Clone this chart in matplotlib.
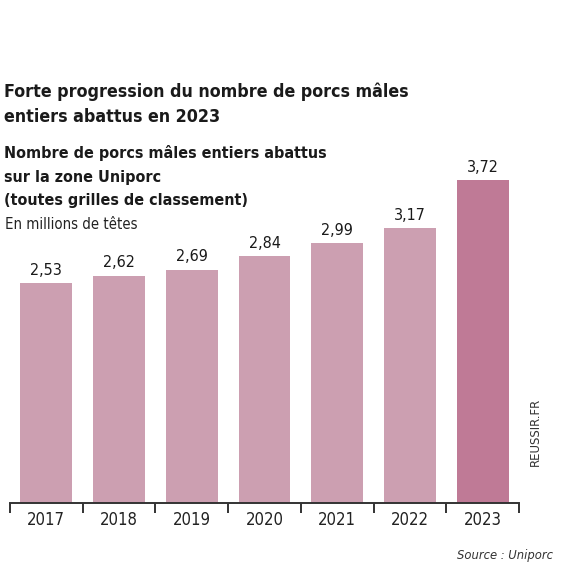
import matplotlib
matplotlib.use("Agg")
import matplotlib.pyplot as plt
from matplotlib import font_manager as fm

# ---- data ----
years = ["2017", "2018", "2019", "2020", "2021", "2022", "2023"]
values = [2.53, 2.62, 2.69, 2.84, 2.99, 3.17, 3.72]
value_labels = ["2,53", "2,62", "2,69", "2,84", "2,99", "3,17", "3,72"]
bar_colors = ["#cc9fb1", "#cc9fb1", "#cc9fb1", "#cc9fb1", "#cc9fb1", "#cc9fb1", "#bf7a96"]
title_lines = ["Forte progression du nombre de porcs mâles",
               "entiers abattus en 2023"]
subtitle_lines = ["Nombre de porcs mâles entiers abattus",
                  "sur la zone Uniporc",
                  "(toutes grilles de classement)"]
unit_text = "En millions de têtes"
source_text = "Source : Uniporc"
credit_text = "REUSSIR.FR"

W, H = 570, 576
names = {f.name for f in fm.fontManager.ttflist}
if "Liberation Sans Narrow" in names:
    NARROW = dict(family="Liberation Sans Narrow")
else:
    NARROW = dict(family="DejaVu Sans", stretch="condensed")

fig = plt.figure(figsize=(W / 100, H / 100), dpi=100)
fig.patch.set_facecolor("white")

# axes: x from 10 to 519 px, baseline at 503 px, ylim 0..4 (86.8 px per unit)
ax_left, ax_right = 10, 519
base_y = 503
px_per_unit = 86.8
ymax = 4.0
ax_top = base_y - ymax * px_per_unit
ax = fig.add_axes([ax_left / W, (H - base_y) / H, (ax_right - ax_left) / W,
                   (base_y - ax_top) / H])
x = list(range(len(years)))
ax.bar(x, values, width=0.715, color=bar_colors, zorder=2)
ax.set_xlim(-0.5, len(years) - 0.5)
ax.set_ylim(0, ymax)
for s in ["top", "right", "left"]:
    ax.spines[s].set_visible(False)
ax.spines["bottom"].set_color("#333333")
ax.spines["bottom"].set_linewidth(1.4)
ax.set_yticks([])
ax.set_xticks(x)
ax.set_xticks([i - 0.5 for i in range(len(years) + 1)], minor=True)
ax.tick_params(axis="x", which="major", length=0, pad=6)
ax.tick_params(axis="x", which="minor", length=7, width=1.4, color="#333333")
ax.set_xticklabels(years, fontsize=12, color="#222222", **NARROW)
ax.set_facecolor("none")

# value labels
for xi, v, lab in zip(x, values, value_labels):
    ax.annotate(lab, (xi, v), xytext=(0, 6), textcoords="offset points",
                ha="center", va="baseline", fontsize=11.5, color="#1a1a1a",
                fontweight="medium", **NARROW)

fig.canvas.draw()
renderer = fig.canvas.get_renderer()


def fit(t, target_w):
    bb = t.get_window_extent(renderer)
    t.set_fontsize(t.get_fontsize() * target_w / bb.width)


def ftext(px, py, s, **kw):
    return fig.text(px / W, 1 - py / H, s, **kw)


t1 = ftext(4, 97, title_lines[0], fontsize=17, fontweight="bold",
           color="#1a1a1a", va="baseline", **NARROW)
t2 = ftext(4, 122, title_lines[1], fontsize=17, fontweight="bold",
           color="#1a1a1a", va="baseline", **NARROW)
s1 = ftext(4, 158, subtitle_lines[0], fontsize=13, fontweight="bold",
           color="#1a1a1a", va="baseline", **NARROW)
s2 = ftext(4, 182, subtitle_lines[1], fontsize=13, fontweight="bold",
           color="#1a1a1a", va="baseline", **NARROW)
s3 = ftext(4, 205, subtitle_lines[2], fontsize=13, fontweight="bold",
           color="#1a1a1a", va="baseline", **NARROW)
u = ftext(5, 229, unit_text, fontsize=12, color="#222222", va="baseline",
          **NARROW)
src = ftext(553, 556, source_text, fontsize=10, style="italic",
            color="#333333", ha="right", va="center", **NARROW)
cr = ftext(535, 432, credit_text, fontsize=10, rotation=90, color="#333333",
           ha="center", va="center", **NARROW)
fig.canvas.draw()
fit(t1, 404)
t2.set_fontsize(t1.get_fontsize())
fit(s1, 321)
s2.set_fontsize(s1.get_fontsize())
s3.set_fontsize(s1.get_fontsize())
fit(u, 132)
fit(src, 96)
bb = cr.get_window_extent(renderer)
cr.set_fontsize(cr.get_fontsize() * 69 / bb.height)

fig.savefig("out.png", dpi=100, facecolor="white")
